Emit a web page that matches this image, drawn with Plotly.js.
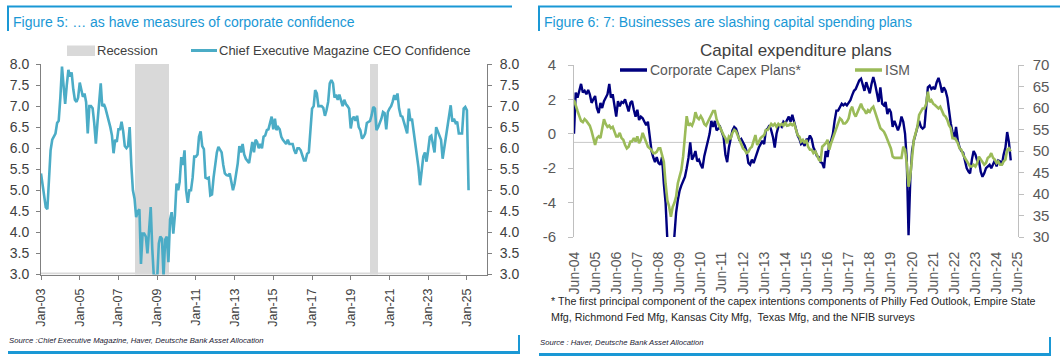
<!DOCTYPE html>
<html>
<head>
<meta charset="utf-8">
<script src="https://cdn.plot.ly/plotly-3.0.1.min.js"></script>
<style>
html,body{margin:0;padding:0;background:#fff;}
#chart{width:1060px;height:364px;}
</style>
</head>
<body>
<div id="chart"></div>
<script>
// ---------------- DATA ----------------
// Figure 5: Chief Executive Magazine CEO Confidence (monthly, from Jan 2003)
const ceoStart = '2003-01';
const ceoConfidence = [
5.4,5.1,4.85,4.6,4.55,5.3,5.95,6.2,6.3,6.35,6.6,6.65,
7.2,7.94,7.5,7.05,7.5,7.86,7.7,7.8,7.4,7.15,7.1,7.2,
7.56,7.4,7.22,7.3,7.1,6.35,7.0,7.0,6.95,6.6,6.11,6.6,
7.2,7.54,7.0,7.05,6.95,6.8,6.7,6.5,6.3,5.88,6.2,6.15,
6.45,6.45,6.63,6.4,6.05,6.0,6.05,6.5,5.6,5.0,4.8,4.36,
4.5,4.55,3.25,3.97,3.97,3.9,3.5,4.0,4.6,3.6,2.9,3.0,
2.9,3.74,3.9,3.85,2.95,3.83,3.9,3.29,4.3,4.48,3.97,4.4,
5.16,5.0,5.2,5.79,5.6,5.95,5.0,4.7,5.0,5.0,5.3,5.8,
5.8,5.85,6.27,6.4,6.05,5.98,5.3,5.28,5.3,4.88,4.9,5.3,
5.6,5.9,6.03,5.95,5.9,5.6,5.4,5.36,5.35,5.4,5.15,5.0,
5.16,5.4,5.64,6.05,5.9,6.1,5.85,5.75,5.7,5.65,5.9,6.15,
5.9,6.2,6.15,6.0,6.1,6.0,6.27,6.3,6.43,6.45,6.6,6.75,
6.45,6.7,6.43,6.5,6.45,6.27,6.2,6.15,6.1,6.2,6.1,6.1,
6.1,5.95,5.87,6.0,6.0,5.95,5.8,5.71,5.71,5.87,5.9,6.43,
6.94,7.0,7.38,7.3,7.0,7.0,7.0,6.96,6.77,6.9,7.1,7.54,
7.62,7.54,7.2,7.27,7.15,7.27,7.15,7.0,7.15,7.05,7.0,6.94,
6.47,6.7,6.75,6.65,6.77,6.5,6.43,6.23,6.27,6.35,6.6,6.63,
6.65,6.79,6.98,6.94,6.43,6.5,6.6,6.7,6.86,6.83,6.45,6.86,
6.94,7.0,7.1,7.26,7.15,7.3,6.94,6.77,6.75,6.6,6.5,6.35,
6.94,6.65,6.7,6.4,6.11,5.87,5.55,5.12,5.5,5.8,5.9,5.68,
5.95,6.27,6.3,6.11,5.9,6.5,6.4,6.27,6.2,5.75,6.0,6.3,
6.6,6.75,7.02,6.63,6.7,6.6,6.63,6.35,6.35,6.35,6.94,6.98,
6.9,5.0
];
// Recession periods (shaded)
const recessionStart = ['2007-11-08','2019-12-28'];
const recessionEnd   = ['2009-08-10','2020-05-23'];
const recessionBase = 3, recessionTop = 8;

// Figure 6: Capital expenditure plans (monthly, from Jun 2004)
const capexStart = '2004-06';
const corporateCapex = [
0.0,2.4,2.1,2.5,2.9,2.4,2.5,2.3,2.55,2.3,1.8,2.0,
2.2,1.5,1.2,1.8,1.5,1.9,2.1,2.3,2.9,2.1,2.3,1.6,
1.0,1.9,1.6,1.85,1.8,2.0,1.7,1.3,1.8,1.9,1.4,1.0,
1.4,0.8,1.0,0.9,0.7,0.5,0.7,-0.35,-1.0,-1.35,-1.65,-1.35,
-1.7,-1.8,-1.35,-2.9,-4.0,-6.2,-6.5,-6.5,-6.3,-6.0,-4.6,-3.85,
-3.3,-3.0,-2.7,-2.5,-2.0,-1.4,-0.5,-1.5,-1.3,-1.0,-1.6,-1.5,
-1.8,-2.0,-1.3,-0.8,-0.4,0.0,0.75,0.4,0.75,0.2,0.3,0.4,
0.1,-0.2,-1.2,-1.65,-0.8,-0.3,0.2,0.4,0.3,0.0,-0.4,-0.3,
-0.5,-0.7,-1.0,-1.7,-1.8,-1.5,-1.7,-1.35,-1.0,-0.8,-0.6,-0.4,
-0.6,0.2,0.3,0.5,0.2,-0.2,-0.8,0.0,0.4,0.5,0.4,0.7,
0.6,0.8,1.0,0.7,1.1,0.7,0.2,-0.1,-0.3,-0.6,-0.5,-0.7,
-0.3,-0.4,-0.1,-0.3,-0.8,-1.0,-1.3,-1.35,-1.65,-1.7,-2.0,-1.0,
-1.35,-0.6,-0.4,0.0,0.75,1.35,1.35,1.55,1.75,1.65,1.75,1.65,
1.85,1.95,2.25,2.5,2.6,2.9,3.1,3.2,2.8,2.5,3.0,2.6,
2.35,2.9,3.3,2.9,2.4,1.85,2.7,1.75,1.65,1.85,1.15,1.45,
1.25,0.4,0.75,0.4,0.2,0.5,1.0,0.7,0.0,-1.5,-5.9,-2.7,
-1.0,-0.4,0.0,0.5,0.75,0.4,0.3,0.4,1.75,2.7,2.8,2.6,
2.7,2.6,3.0,3.25,2.9,2.4,2.7,2.5,2.1,1.35,0.6,0.1,
-0.3,0.4,-0.4,-0.8,-1.0,-1.1,-1.55,-2.0,-2.2,-2.3,-1.5,-1.0,
-1.2,-1.55,-1.55,-2.2,-2.5,-2.3,-2.0,-1.9,-1.8,-2.0,-1.8,-1.55,
-1.9,-1.55,-1.6,-1.8,-1.2,-0.8,0.1,-0.5,-1.55
];
const ismCapex = [
61.9,60.3,59.3,58.1,57.0,56.7,57.4,57.0,56.3,55.9,54.6,52.6,
51.4,53.0,53.4,53.0,55.3,57.4,56.3,55.6,55.9,55.3,55.6,54.6,
53.4,53.4,54.2,53.0,52.6,51.4,50.6,51.0,52.2,52.2,53.0,52.2,
53.4,51.8,52.6,54.2,53.0,52.2,51.0,50.6,50.2,49.5,49.5,49.8,
50.6,50.6,49.1,47.5,42.5,38.5,37.1,34.7,37.0,37.9,39.4,42.5,
44.1,45.6,48.8,53.0,58.1,55.9,56.3,55.9,57.0,59.0,57.8,57.4,
58.1,57.4,56.3,55.9,56.7,57.4,58.1,59.3,59.3,57.4,56.3,55.3,
54.6,53.7,53.0,51.8,53.4,53.0,54.2,54.9,54.6,53.7,52.6,51.4,
50.6,50.2,49.5,49.8,50.6,51.0,52.2,53.7,51.4,52.2,53.0,53.4,
53.7,54.9,54.9,55.6,56.3,55.9,56.3,55.6,56.3,55.9,56.3,55.9,
56.7,55.9,56.0,56.4,56.0,56.4,54.9,53.7,53.3,52.2,52.6,51.8,
52.6,51.0,50.3,50.3,49.5,49.9,49.1,48.0,47.6,51.0,51.4,51.8,
52.6,50.3,51.8,53.0,54.1,54.9,56.4,57.6,57.2,56.4,56.4,56.8,
57.6,59.5,60.3,58.7,58.0,59.1,59.9,61.0,59.9,59.5,58.7,59.5,
59.1,59.9,60.3,59.1,58.0,56.8,55.3,54.9,54.5,53.7,52.6,51.4,
50.6,48.7,48.4,48.4,48.4,48.4,48.4,51.0,50.3,47.2,41.7,44.1,
48.7,52.6,54.1,55.7,58.4,59.1,59.9,59.9,61.0,63.8,61.4,61.8,
61.0,60.7,60.3,59.9,60.3,59.1,58.4,58.0,57.2,56.0,55.3,53.0,
53.0,52.6,51.8,50.6,50.3,49.1,48.4,47.6,46.8,46.4,46.4,46.8,
46.4,47.2,48.7,48.0,47.6,46.8,47.2,48.4,48.7,49.5,48.4,48.0,
47.2,47.6,46.8,46.8,47.6,48.0,50.3,50.6,49.9
];
// Left-axis tick values and labels of the capex chart (hyphen minus as in source)
const capexTickVals = [-6,-4,-2,0,2,4];
const capexTickText = ['-6','-4','-2','0','2','4'];

// Text
const title5 = 'Figure 5: \u2026 as have measures of corporate confidence';
const title6 = 'Figure 6: 7: Businesses are slashing capital spending plans';
const chartTitle6 = 'Capital expenditure plans';
const legendRecession = 'Recession';
const legendCEO = 'Chief Executive Magazine CEO Confidence';
const legendCapex = 'Corporate Capex Plans*';
const legendISM = 'ISM';
const footnote1 = '* The first principal component of the capex intentions components of Philly Fed Outlook, Empire State';
const footnote2 = 'Mfg, Richmond Fed Mfg, Kansas City Mfg,  Texas Mfg, and the NFIB surveys';
const source5 = 'Source :Chief Executive Magazine, Haver, Deutsche Bank Asset Allocation';
const source6 = 'Source : Haver, Deutsche Bank Asset Allocation';

// ---------------- HELPERS ----------------
function monthSeq(start, n){
  const [y,m] = start.split('-').map(Number);
  const out = [];
  for(let i=0;i<n;i++){
    const t = y*12 + (m-1) + i;
    out.push(Math.floor(t/12) + '-' + String(t%12+1).padStart(2,'0') + '-01');
  }
  return out;
}
function fmtDate(ms){
  const d = new Date(ms);
  const p = v => String(v).padStart(2,'0');
  return d.getUTCFullYear()+'-'+p(d.getUTCMonth()+1)+'-'+p(d.getUTCDate())+' '+p(d.getUTCHours())+':'+p(d.getUTCMinutes());
}
const W = 1060, H = 364;
const px = x => x / W;
const py = y => 1 - y / H;

const FONT = '"Liberation Sans", Arial, Helvetica, sans-serif';
const BLUE = '#1a98d5';
const CEO_COLOR = '#4bacc6';
const CAPEX_COLOR = '#00007f';
const ISM_COLOR = '#9bbb59';
const REC_COLOR = '#d9d9d9';

// ---------------- TRACES ----------------
const recStartMs = recessionStart.map(d => Date.parse(d + 'T00:00:00Z'));
const recEndMs = recessionEnd.map(d => Date.parse(d + 'T00:00:00Z'));

const traces = [
  {
    type:'bar', xaxis:'x', yaxis:'y',
    x: recStartMs.map((s,i) => fmtDate((s + recEndMs[i]) / 2)),
    width: recStartMs.map((s,i) => recEndMs[i] - s),
    y: recStartMs.map(() => recessionTop - recessionBase),
    base: recStartMs.map(() => recessionBase),
    marker:{color:REC_COLOR, line:{width:0}},
    hoverinfo:'skip', showlegend:false
  },
  {
    type:'scatter', mode:'lines', xaxis:'x', yaxis:'y2',
    x: monthSeq(ceoStart, ceoConfidence.length), y: ceoConfidence,
    line:{color:CEO_COLOR, width:2.6}, hoverinfo:'skip', showlegend:false
  },
  {
    type:'scatter', mode:'lines', xaxis:'x2', yaxis:'y3',
    x: monthSeq(capexStart, corporateCapex.length), y: corporateCapex,
    line:{color:CAPEX_COLOR, width:2.4}, hoverinfo:'skip', showlegend:false
  },
  {
    type:'scatter', mode:'lines', xaxis:'x2', yaxis:'y4',
    x: monthSeq(capexStart, ismCapex.length), y: ismCapex,
    line:{color:ISM_COLOR, width:2.6}, hoverinfo:'skip', showlegend:false
  }
];

// ---------------- LAYOUT ----------------
const leftTick = {size:14, color:'#404040', family:FONT};
const rightTick = {size:15, color:'#595959', family:FONT};

const shapes = [
  // thin base strip of the recession series
  {type:'rect', xref:'x', yref:'y', x0:'2003-01-01', x1:'2024-09-01', y0:3, y1:3.045,
   fillcolor:REC_COLOR, line:{width:0}, layer:'below'},
  // horizontal reference line in right chart
  {type:'line', xref:'x2 domain', yref:'y3', x0:0, x1:1, y0:-0.5, y1:-0.5,
   line:{color:'#c8c8c8', width:1}, layer:'below'},
  // panel frames
  {type:'line', xref:'paper', yref:'paper', x0:px(7), x1:px(512), y0:py(6.5), y1:py(6.5), line:{color:BLUE, width:2.2}},
  {type:'line', xref:'paper', yref:'paper', x0:px(8), x1:px(8), y0:py(6), y1:py(31), line:{color:BLUE, width:2}},
  {type:'line', xref:'paper', yref:'paper', x0:px(8), x1:px(520), y0:py(352.5), y1:py(352.5), line:{color:BLUE, width:3}},
  {type:'line', xref:'paper', yref:'paper', x0:px(519), x1:px(519), y0:py(335), y1:py(354), line:{color:BLUE, width:2}},
  {type:'line', xref:'paper', yref:'paper', x0:px(538), x1:px(1060), y0:py(6.5), y1:py(6.5), line:{color:BLUE, width:2.2}},
  {type:'line', xref:'paper', yref:'paper', x0:px(539), x1:px(539), y0:py(6), y1:py(31), line:{color:BLUE, width:2}},
  {type:'line', xref:'paper', yref:'paper', x0:px(539), x1:px(1051), y0:py(354.5), y1:py(354.5), line:{color:BLUE, width:3}},
  {type:'line', xref:'paper', yref:'paper', x0:px(1050), x1:px(1050), y0:py(337), y1:py(356), line:{color:BLUE, width:2}},
  // legend symbols
  {type:'rect', xref:'paper', yref:'paper', x0:px(67), x1:px(95), y0:py(56), y1:py(45.5), fillcolor:REC_COLOR, line:{width:0}},
  {type:'line', xref:'paper', yref:'paper', x0:px(191), x1:px(217), y0:py(50.5), y1:py(50.5), line:{color:CEO_COLOR, width:3}},
  {type:'line', xref:'paper', yref:'paper', x0:px(620), x1:px(647), y0:py(70), y1:py(70), line:{color:CAPEX_COLOR, width:3.5}},
  {type:'line', xref:'paper', yref:'paper', x0:px(855), x1:px(882), y0:py(70), y1:py(70), line:{color:ISM_COLOR, width:3.5}}
];

function ann(text, x, y, opts){
  return Object.assign({text:text, xref:'paper', yref:'paper', x:px(x), y:py(y),
    xanchor:'left', yanchor:'middle', showarrow:false, borderpad:0,
    font:{family:FONT, size:13, color:'#404040'}}, opts||{});
}

const annotations = [
  ann(title5, 12, 21.5, {font:{family:FONT, size:14, color:BLUE}}),
  ann(title6, 543, 21.5, {font:{family:FONT, size:14, color:BLUE}}),
  ann(legendRecession, 96, 50.5, {font:{family:FONT, size:13, color:'#404040'}}),
  ann(legendCEO, 218, 50.5, {font:{family:FONT, size:13, color:'#404040'}}),
  ann(chartTitle6, 796, 51, {xanchor:'center', font:{family:FONT, size:17, color:'#404040'}}),
  ann(legendCapex, 649, 70, {font:{family:FONT, size:14, color:'#595959'}}),
  ann(legendISM, 884, 70, {font:{family:FONT, size:14, color:'#595959'}}),
  ann(footnote1, 550, 301, {font:{family:FONT, size:10.7, color:'#262626'}}),
  ann(footnote2, 550, 316.5, {font:{family:FONT, size:10.7, color:'#262626'}}),
  ann('<i>' + source5 + '</i>', 8, 340, {font:{family:FONT, size:7.7, color:'#1a1a33'}}),
  ann('<i>' + source6 + '</i>', 539, 342.5, {font:{family:FONT, size:7.7, color:'#1a1a33'}})
];

const layout = {
  width:W, height:H, margin:{l:0, r:0, t:0, b:0, pad:0},
  paper_bgcolor:'#ffffff', plot_bgcolor:'rgba(0,0,0,0)',
  showlegend:false, bargap:0,
  font:{family:FONT, color:'#404040'},
  xaxis:{
    domain:[px(41), px(487)], anchor:'y', type:'date',
    range:['2003-01-01','2026-01-15'], tick0:'2003-01-01', dtick:'M24', tickformat:'%b-%y',
    tickangle:-90, ticks:'outside', ticklen:4, tickcolor:'#808080', tickwidth:1,
    showline:true, linecolor:'#808080', linewidth:1, showgrid:false, zeroline:false,
    tickfont:{size:12.5, color:'#404040', family:FONT}, ticklabelstandoff:4
  },
  yaxis:{
    domain:[py(274.5), py(64)], anchor:'x', range:[3,8], tick0:3, dtick:0.5, tickformat:'.1f',
    ticks:'outside', ticklen:4, tickcolor:'#808080', showline:true, linecolor:'#808080', linewidth:1,
    showgrid:false, zeroline:false, tickfont:leftTick, ticklabelstandoff:4, fixedrange:true
  },
  yaxis2:{
    overlaying:'y', side:'right', anchor:'x', range:[3,8], tick0:3, dtick:0.5, tickformat:'.1f',
    ticks:'outside', ticklen:4, tickcolor:'#808080', showline:true, linecolor:'#808080', linewidth:1,
    showgrid:false, zeroline:false, tickfont:leftTick, ticklabelstandoff:5
  },
  xaxis2:{
    domain:[px(574), px(1017.7)], anchor:'y3', type:'date',
    range:['2004-06-01','2025-06-01'], tick0:'2004-06-01', dtick:'M12', tickformat:'%b-%y',
    tickangle:-90, ticks:'outside', ticklen:6, tickcolor:'rgba(0,0,0,0)',
    showline:false, showgrid:false, zeroline:false,
    tickfont:{size:14, color:'#595959', family:FONT}, ticklabelstandoff:2
  },
  yaxis3:{
    domain:[py(237), py(65)], anchor:'x2', range:[-6,4],
    tickmode:'array', tickvals:capexTickVals, ticktext:capexTickText,
    ticks:'outside', ticklen:5, tickcolor:'#bfbfbf', showline:true, linecolor:'#bfbfbf', linewidth:1,
    showgrid:false, zeroline:false, tickfont:rightTick, ticklabelstandoff:9
  },
  yaxis4:{
    overlaying:'y3', side:'right', anchor:'x2', range:[30,70], tick0:30, dtick:5,
    ticks:'outside', ticklen:5, tickcolor:'#bfbfbf', showline:true, linecolor:'#bfbfbf', linewidth:1,
    showgrid:false, zeroline:false, tickfont:rightTick, ticklabelstandoff:6
  },
  shapes:shapes,
  annotations:annotations
};

Plotly.newPlot('chart', traces, layout, {staticPlot:true, displayModeBar:false});
</script>
</body>
</html>
